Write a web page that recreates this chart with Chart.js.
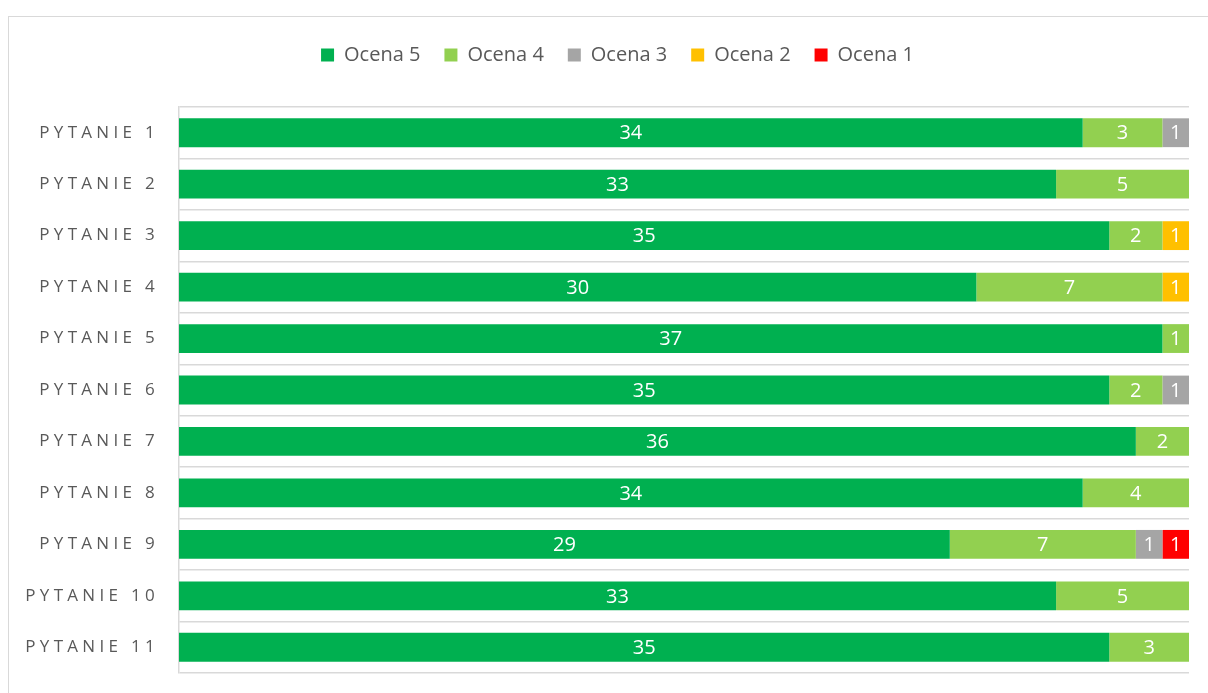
<!DOCTYPE html>
<html>
<head>
<meta charset="utf-8">
<script src="https://cdn.jsdelivr.net/npm/chart.js@4.4.0/dist/chart.umd.min.js"></script>
<style>
  html, body { margin: 0; padding: 0; background: #fff; overflow: hidden; }
  #frame { position: absolute; left: 8px; top: 16px; width: 1400px; height: 900px; border: 1.5px solid #d9d9d9; }
  #wrap { position: absolute; left: 0; top: 0; width: 1208px; height: 693px; }
</style>
</head>
<body>
<div id="frame"></div>
<div id="wrap"><canvas id="myChart"></canvas></div>
<script>
const questions = ["PYTANIE 1", "PYTANIE 2", "PYTANIE 3", "PYTANIE 4", "PYTANIE 5", "PYTANIE 6",
                   "PYTANIE 7", "PYTANIE 8", "PYTANIE 9", "PYTANIE 10", "PYTANIE 11"];
const ocena5 = [34, 33, 35, 30, 37, 35, 36, 34, 29, 33, 35];
const ocena4 = [3, 5, 2, 7, 1, 2, 2, 4, 7, 5, 3];
const ocena3 = [1, 0, 0, 0, 0, 1, 0, 0, 1, 0, 0];
const ocena2 = [0, 0, 1, 1, 0, 0, 0, 0, 0, 0, 0];
const ocena1 = [0, 0, 0, 0, 0, 0, 0, 0, 1, 0, 0];

const fontFamily = "'Open Sans', 'Liberation Sans', sans-serif";

// white value labels in the middle of each segment
const valueLabels = {
    id: 'valueLabels',
    afterLayout(chart) {
        // the original chart frame is wider than the picture, legend sits a bit right
        chart.legend.left += 23;
        chart.legend.right += 23;
    },
    afterDatasetsDraw(chart) {
        const ctx = chart.ctx;
        ctx.save();
        ctx.fillStyle = '#ffffff';
        ctx.font = '20px ' + fontFamily;
        ctx.textAlign = 'center';
        ctx.textBaseline = 'middle';
        chart.data.datasets.forEach((ds, i) => {
            chart.getDatasetMeta(i).data.forEach((bar, j) => {
                if (!ds.data[j]) return;
                const p = bar.getProps(['x', 'base', 'y'], true);
                ctx.fillText(ds.data[j], (p.x + p.base) / 2, p.y + 1);
            });
        });
        ctx.restore();
        // spaced-out letters for the category labels drawn next
        ctx.letterSpacing = '4.3px';
    },
    afterDraw(chart) {
        chart.ctx.letterSpacing = '0px';
    }
};

new Chart("myChart", {
    type: "bar",
    data: {
        labels: questions,
        datasets: [
            { label: "Ocena 5", data: ocena5, backgroundColor: "#00B050" },
            { label: "Ocena 4", data: ocena4, backgroundColor: "#92D050" },
            { label: "Ocena 3", data: ocena3, backgroundColor: "#A5A5A5" },
            { label: "Ocena 2", data: ocena2, backgroundColor: "#FFC000" },
            { label: "Ocena 1", data: ocena1, backgroundColor: "#FF0000" }
        ]
    },
    options: {
        indexAxis: 'y',
        responsive: true,
        maintainAspectRatio: false,
        animation: false,
        barPercentage: 0.56,
        categoryPercentage: 1,
        layout: { padding: { top: 21, right: 19, bottom: 20, left: 0 } },
        plugins: {
            legend: {
                labels: {
                    boxWidth: 13, boxHeight: 13, padding: 24,
                    color: '#595959',
                    font: { size: 20, family: fontFamily }
                }
            },
            tooltip: { enabled: false }
        },
        scales: {
            x: {
                stacked: true, min: 0, max: 38, position: 'top',
                grid: { display: false }, border: { display: false },
                ticks: { display: false },
                afterFit(scale) { scale.height = 32; }
            },
            y: {
                stacked: true,
                grid: { color: '#d9d9d9', lineWidth: 1.5, drawTicks: false },
                border: { color: '#d9d9d9', width: 1.5 },
                ticks: { color: '#595959', padding: 20, z: 1, font: { size: 17, family: fontFamily } },
                afterFit(scale) {
                    scale.width = 179;
                    scale.paddingTop = 0;
                    scale.paddingBottom = 0;
                }
            }
        }
    },
    plugins: [valueLabels]
});
</script>
</body>
</html>
